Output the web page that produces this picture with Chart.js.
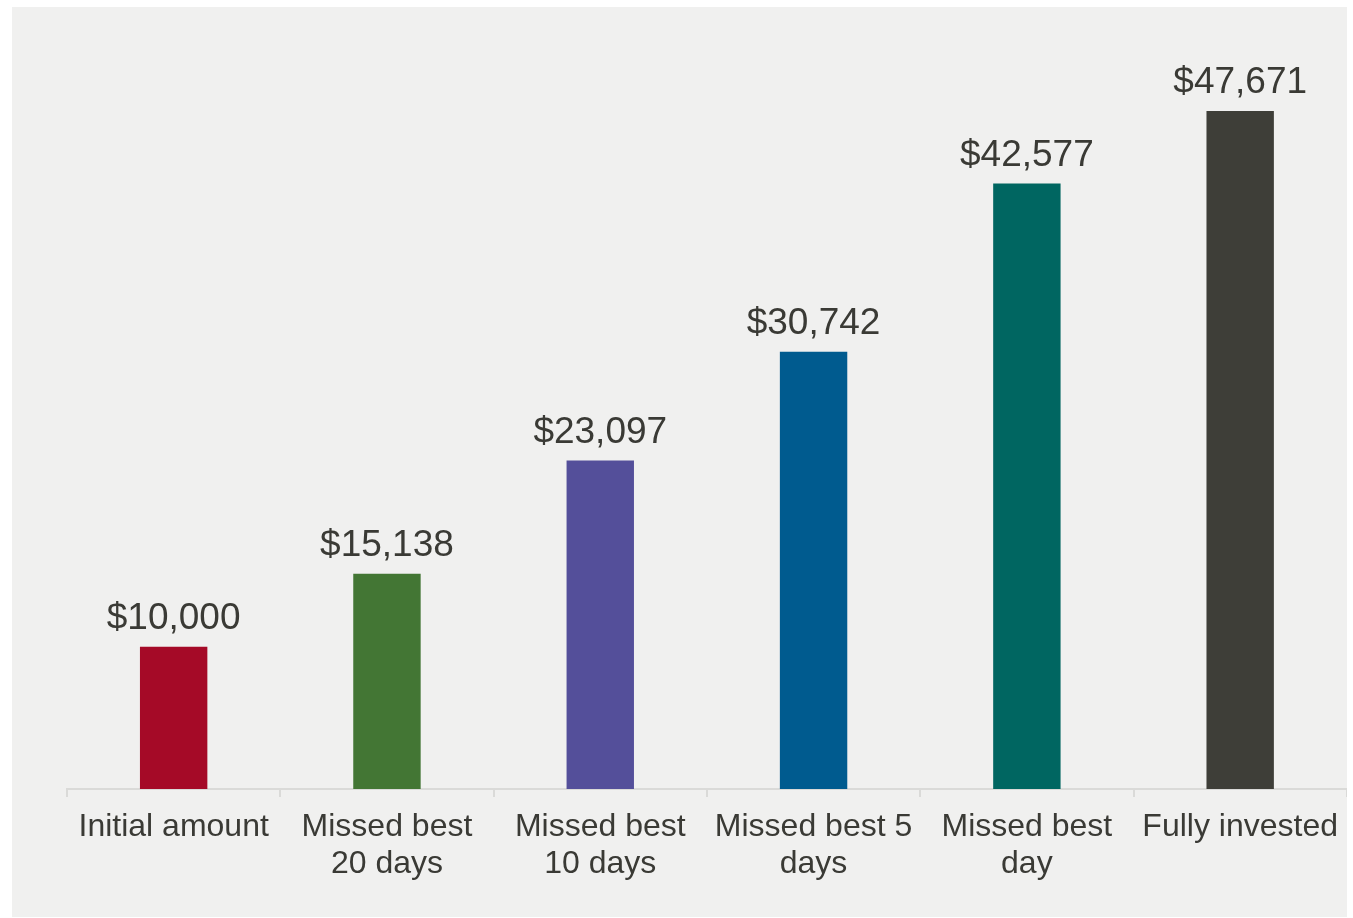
<!DOCTYPE html>
<html>
<head>
<meta charset="utf-8">
<script src="https://cdn.jsdelivr.net/npm/chart.js@4"></script>
<style>
  html, body { margin: 0; padding: 0; background: #ffffff; }
  #panel {
    position: absolute; left: 12px; top: 7px;
    width: 1335px; height: 910px; background: #f0f0ef;
    overflow: hidden;
  }
</style>
</head>
<body>
<div id="panel"><canvas id="chart" width="1337" height="910"></canvas></div>
<script>
// Chart data
const categories = [
  'Initial amount',
  ['Missed best', '20 days'],
  ['Missed best', '10 days'],
  ['Missed best 5', 'days'],
  ['Missed best', 'day'],
  'Fully invested'
];
const values = [10000, 15138, 23097, 30742, 42577, 47671];
const barColors = ['#a50a27', '#437634', '#544f9a', '#005b8f', '#006661', '#3e3e38'];

const textColor = '#3a3a35';
const fontFamily = '"Liberation Sans", Arial, sans-serif';

// Value labels above each bar
const valueLabels = {
  id: 'valueLabels',
  afterDatasetsDraw(chart) {
    const ctx = chart.ctx;
    const meta = chart.getDatasetMeta(0);
    ctx.save();
    ctx.fillStyle = textColor;
    ctx.font = '37px ' + fontFamily;
    ctx.textAlign = 'center';
    ctx.textBaseline = 'alphabetic';
    meta.data.forEach((bar, i) => {
      ctx.fillText('$' + values[i].toLocaleString('en-US'), bar.x, bar.y - 18);
    });
    ctx.restore();
  }
};

new Chart(document.getElementById('chart').getContext('2d'), {
  type: 'bar',
  data: {
    labels: categories,
    datasets: [{
      data: values,
      backgroundColor: barColors,
      borderWidth: 0,
      barPercentage: 0.316,
      categoryPercentage: 1
    }]
  },
  options: {
    responsive: false,
    animation: false,
    layout: { padding: { left: 55, right: 0, top: 71, bottom: 0 } },
    plugins: {
      legend: { display: false },
      tooltip: { enabled: false }
    },
    scales: {
      x: {
        afterFit(scale) { scale.height = 128; },
        border: { display: true, color: '#dadad8', width: 2 },
        grid: {
          display: true,
          drawOnChartArea: false,
          drawTicks: true,
          tickLength: 8,
          color: '#dadad8',
          lineWidth: 2,
          offset: true
        },
        ticks: {
          color: textColor,
          font: { family: fontFamily, size: 32, lineHeight: 1.17 },
          padding: 11,
          maxRotation: 0,
          autoSkip: false
        }
      },
      y: {
        display: false,
        min: 0,
        max: 50000
      }
    }
  },
  plugins: [valueLabels]
});
</script>
</body>
</html>
